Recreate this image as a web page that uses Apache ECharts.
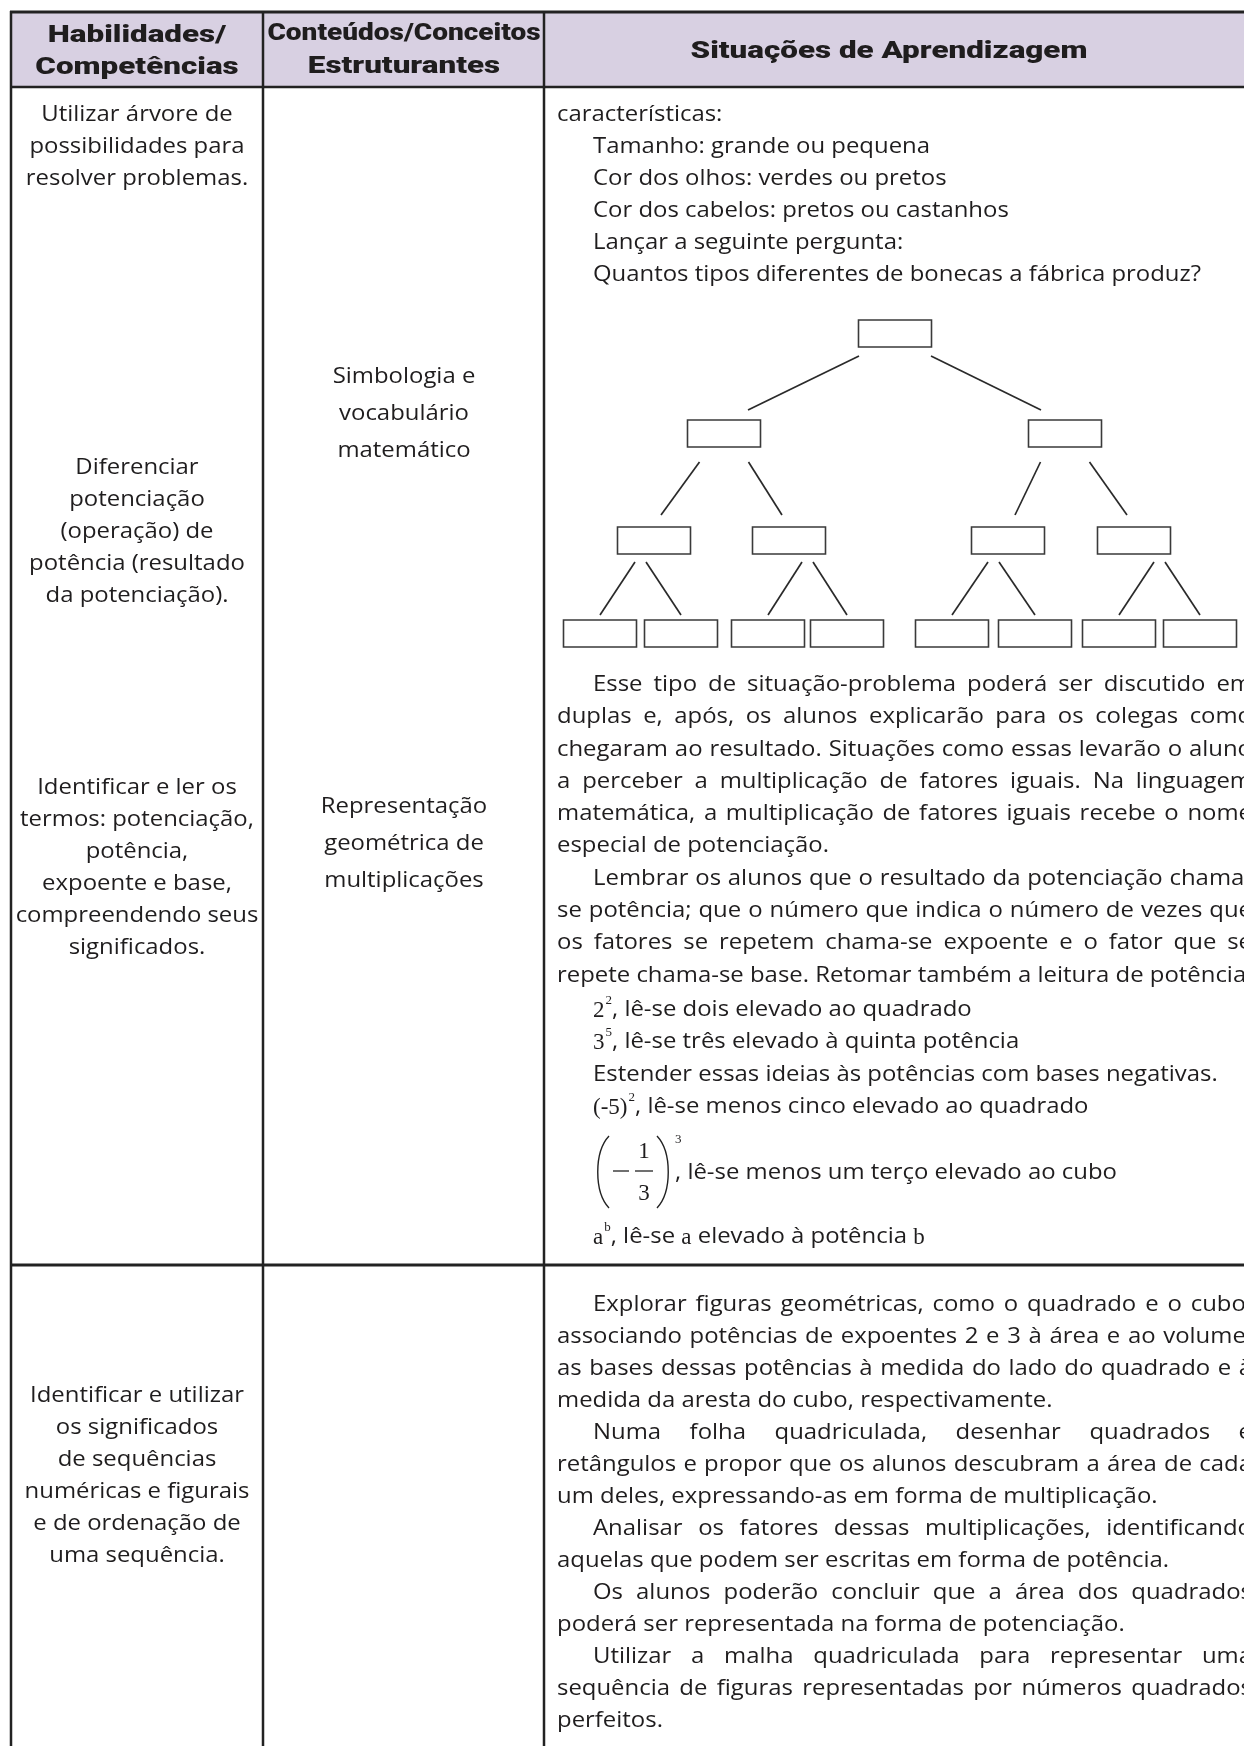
<!DOCTYPE html>
<html>
<head>
<meta charset="utf-8">
<script src="https://cdn.jsdelivr.net/npm/echarts@6/dist/echarts.min.js"></script>
<style>
html,body{margin:0;padding:0;background:#ffffff;}
#chart{width:1244px;height:1746px;}
</style>
</head>
<body>
<div id="chart"></div>
<script>
// ---------------- DATA (texts of the table) ----------------
const headerCol1 = ['Habilidades/', 'Competências'];
const headerCol2 = ['Conteúdos/Conceitos', 'Estruturantes'];
const headerCol3 = ['Situações de Aprendizagem'];

const skillsRow1 = [
  ['Utilizar árvore de', 'possibilidades para', 'resolver problemas.'],
  ['Diferenciar', 'potenciação', '(operação) de', 'potência (resultado', 'da potenciação).'],
  ['Identificar e ler os', 'termos: potenciação,', 'potência,', 'expoente e base,', 'compreendendo seus', 'significados.']
];
const contentsRow1 = [
  ['Simbologia e', 'vocabulário', 'matemático'],
  ['Representação', 'geométrica de', 'multiplicações']
];
const skillsRow2 = ['Identificar e utilizar', 'os significados', 'de sequências', 'numéricas e figurais', 'e de ordenação de', 'uma sequência.'];

const introHead = 'características:';
const introLines = [
  'Tamanho: grande ou pequena',
  'Cor dos olhos: verdes ou pretos',
  'Cor dos cabelos: pretos ou castanhos',
  'Lançar a seguinte pergunta:',
  'Quantos tipos diferentes de bonecas a fábrica produz?'
];
// tree of possibilities: number of (empty) boxes per level
const treeLevels = [1, 2, 4, 8];

const paragraphsRow1 = [
  ['Esse tipo de situação-problema poderá ser discutido em',
   'duplas e, após, os alunos explicarão para os colegas como',
   'chegaram ao resultado. Situações como essas levarão o aluno',
   'a perceber a multiplicação de fatores iguais. Na linguagem',
   'matemática, a multiplicação de fatores iguais recebe o nome',
   'especial de potenciação.'],
  ['Lembrar os alunos que o resultado da potenciação chama-',
   'se potência; que o número que indica o número de vezes que',
   'os fatores se repetem chama-se expoente e o fator que se',
   'repete chama-se base. Retomar também a leitura de potências.']
];
// $..$ = serif (math) text, ^..^ = superscript
const powerExamples = [
  '$2$^2^, lê-se dois elevado ao quadrado',
  '$3$^5^, lê-se três elevado à quinta potência',
  'Estender essas ideias às potências com bases negativas.',
  '$(-5)$^2^, lê-se menos cinco elevado ao quadrado'
];
const fractionExample = { sign: '−', num: '1', den: '3', exp: '3', text: ', lê-se menos um terço elevado ao cubo' };
const lastExample = '$a$^b^, lê-se $a$ elevado à potência $b$';

const paragraphsRow2 = [
  ['Explorar figuras geométricas, como o quadrado e o cubo,',
   'associando potências de expoentes 2 e 3 à área e ao volume,',
   'as bases dessas potências à medida do lado do quadrado e à',
   'medida da aresta do cubo, respectivamente.'],
  ['Numa folha quadriculada, desenhar quadrados e',
   'retângulos e propor que os alunos descubram a área de cada',
   'um deles, expressando-as em forma de multiplicação.'],
  ['Analisar os fatores dessas multiplicações, identificando',
   'aquelas que podem ser escritas em forma de potência.'],
  ['Os alunos poderão concluir que a área dos quadrados',
   'poderá ser representada na forma de potenciação.'],
  ['Utilizar a malha quadriculada para representar uma',
   'sequência de figuras representadas por números quadrados',
   'perfeitos.']
];

// ---------------- LAYOUT / STYLE ----------------
const L = {
  left: 11, c1: 263, c2: 544, right: 1262, top: 12, headBottom: 87, rowDiv: 1265, bottom: 1770,
  col1Center: 137, col2Center: 404, col3HeadCenter: 889,
  textLeft: 557, indent: 593, justifyRight: 1252,
  skillsRow1Y: [115, 468, 788], skillsStep: 32,
  contentsRow1Y: [377, 807], contentsStep: 37,
  skillsRow2Y: 1396,
  introY: 115, introStep: 32,
  parRow1Y: 685, parStep: 32.3,
  examplesY: [1010, 1042, 1075, 1107], fractionY: 1172, lastExampleY: 1237,
  parRow2Y: 1305, parStep2: 32.0,
  headY1: [36, 68], headY2: [34, 67], headY3: 52
};
const TREE = {
  boxW: 73, boxH: 27,
  levelTop: [320, 420, 527, 620],
  centers: [[895], [724, 1065], [654, 789, 1008, 1134], [600, 681, 768, 847, 952, 1035, 1119, 1200]],
  edges: [
    { spread: 36, g1: 9, pull: 24, g2: 10, mid: 'parent' },
    { spread: 24.5, g1: 15, pull: 7, g2: 12, mid: 'parent' },
    { spread: 5.5, g1: 8, pull: 0, g2: 5, mid: 'children' }
  ]
};
const TEXT = '#1f1d1e';
const LINE = '#222222';
const HEAD_FILL = '#d8d0e2';
const BODY_FONT = '400 21px "Open Sans", Lato, sans-serif';
const HEAD_FONT = '900 23px Roboto, "Open Sans", sans-serif';
const SERIF = '"Liberation Serif", "DejaVu Serif", serif';
const MATH_FONT = '400 23px ' + SERIF;
const SUP_FONT = '400 13px ' + SERIF;

const cv = document.createElement('canvas').getContext('2d');
function measure(t, font) { cv.font = font; return cv.measureText(t).width; }
const kBody = 608 / measure(introLines[4], BODY_FONT);
const kHead = 397 / measure(headerCol3[0], HEAD_FONT);

const els = [];
function txt(x, y, text, font, k, align) {
  els.push({
    type: 'text', x: x, y: y, scaleX: k, silent: true, z: 10,
    style: { text: text, font: font, fill: TEXT, textAlign: align || 'left', align: align || 'left',
             textVerticalAlign: 'middle', verticalAlign: 'middle' }
  });
}
function line(x1, y1, x2, y2, w, color) {
  els.push({ type: 'line', silent: true, z: 5, shape: { x1, y1, x2, y2 }, style: { stroke: color || LINE, lineWidth: w } });
}
function curve(x1, y1, cpx1, cpy1, cpx2, cpy2, x2, y2) {
  els.push({ type: 'bezierCurve', silent: true, z: 6, shape: { x1, y1, cpx1, cpy1, cpx2, cpy2, x2, y2 },
             style: { stroke: '#222', lineWidth: 1.4, fill: null } });
}
function justify(x0, x1, y, s) {
  const words = s.split(' ');
  const ws = words.map(w => measure(w, BODY_FONT) * kBody);
  const total = ws.reduce((a, b) => a + b, 0);
  const gap = words.length > 1 ? (x1 - x0 - total) / (words.length - 1) : 0;
  let x = x0;
  words.forEach((w, i) => { txt(x, y, w, BODY_FONT, kBody, 'left'); x += ws[i] + gap; });
}
function paragraphs(list, y0, step) {
  let y = y0;
  list.forEach(p => {
    p.forEach((s, i) => {
      const x0 = i === 0 ? L.indent : L.textLeft;
      if (i < p.length - 1) justify(x0, L.justifyRight, y, s);
      else txt(x0, y, s, BODY_FONT, kBody, 'left');
      y += step;
    });
  });
}
function segments(x, y, s) {
  const re = /(\$[^$]*\$|\^[^^]*\^)/g;
  s.split(re).filter(p => p.length).forEach(p => {
    if (p[0] === '$') {
      const t = p.slice(1, -1);
      txt(x, y + 1, t, MATH_FONT, 1, 'left'); x += measure(t, MATH_FONT);
    } else if (p[0] === '^') {
      const t = p.slice(1, -1);
      txt(x + 1, y - 9, t, SUP_FONT, 1, 'left'); x += measure(t, SUP_FONT) + 1;
    } else {
      txt(x, y, p, BODY_FONT, kBody, 'left'); x += measure(p, BODY_FONT) * kBody;
    }
  });
}

// ---------------- TABLE FRAME ----------------
els.push({ type: 'rect', silent: true, z: 1, shape: { x: L.left, y: L.top, width: L.right - L.left, height: L.headBottom - L.top }, style: { fill: HEAD_FILL } });
line(L.left - 1, L.top, L.right, L.top, 3);
line(L.left - 1, L.headBottom, L.right, L.headBottom, 2.5);
line(L.left - 1, L.rowDiv, L.right, L.rowDiv, 3);
[L.left, L.c1, L.c2].forEach(x => line(x, L.top - 1, x, L.bottom, 2.5));

// ---------------- HEADER ----------------
headerCol1.forEach((s, i) => txt(L.col1Center, L.headY1[i], s, HEAD_FONT, kHead, 'center'));
headerCol2.forEach((s, i) => {
  const w = measure(s, HEAD_FONT) * kHead;
  const k = w > 273 ? kHead * 273 / w : kHead;
  txt(L.col2Center, L.headY2[i], s, HEAD_FONT, k, 'center');
});
txt(L.col3HeadCenter, L.headY3, headerCol3[0], HEAD_FONT, kHead, 'center');

// ---------------- COLUMN 1 & 2 ----------------
skillsRow1.forEach((g, gi) => g.forEach((s, i) => txt(L.col1Center, L.skillsRow1Y[gi] + i * L.skillsStep, s, BODY_FONT, kBody, 'center')));
contentsRow1.forEach((g, gi) => g.forEach((s, i) => txt(L.col2Center, L.contentsRow1Y[gi] + i * L.contentsStep, s, BODY_FONT, kBody, 'center')));
skillsRow2.forEach((s, i) => txt(L.col1Center, L.skillsRow2Y + i * L.skillsStep, s, BODY_FONT, kBody, 'center'));

// ---------------- COLUMN 3, ROW 1 ----------------
txt(L.textLeft, L.introY, introHead, BODY_FONT, kBody, 'left');
introLines.forEach((s, i) => txt(L.indent, L.introY + (i + 1) * L.introStep, s, BODY_FONT, kBody, 'left'));

// tree of possibilities
treeLevels.forEach((n, lv) => {
  for (let j = 0; j < n; j++) {
    const cx = TREE.centers[lv][j];
    els.push({ type: 'rect', silent: true, z: 6, shape: { x: cx - TREE.boxW / 2, y: TREE.levelTop[lv], width: TREE.boxW, height: TREE.boxH },
               style: { fill: '#ffffff', stroke: '#3a3a3a', lineWidth: 1.6 } });
  }
  if (lv < treeLevels.length - 1) {
    const e = TREE.edges[lv];
    for (let j = 0; j < n; j++) {
      const kids = [TREE.centers[lv + 1][2 * j], TREE.centers[lv + 1][2 * j + 1]];
      const mid = e.mid === 'parent' ? TREE.centers[lv][j] : (kids[0] + kids[1]) / 2;
      const yStart = TREE.levelTop[lv] + TREE.boxH + e.g1;
      const yEnd = TREE.levelTop[lv + 1] - e.g2;
      line(mid - e.spread, yStart, kids[0] + e.pull, yEnd, 1.7, '#2a2a2a');
      line(mid + e.spread, yStart, kids[1] - e.pull, yEnd, 1.7, '#2a2a2a');
    }
  }
});

paragraphs(paragraphsRow1, L.parRow1Y, L.parStep);
powerExamples.forEach((s, i) => segments(L.indent, L.examplesY[i], s));

// fraction example
(function () {
  const ox = L.indent, cy = L.fractionY;
  curve(ox + 16, cy - 36, ox + 1, cy - 20, ox + 1, cy + 20, ox + 16, cy + 36);
  curve(ox + 64, cy - 36, ox + 79, cy - 20, ox + 79, cy + 20, ox + 64, cy + 36);
  line(ox + 20, cy - 1, ox + 36, cy - 1, 1.3, '#222');
  line(ox + 42, cy - 1, ox + 60, cy - 1, 1.3, '#222');
  txt(ox + 51, cy - 20, fractionExample.num, MATH_FONT, 1, 'center');
  txt(ox + 51, cy + 22, fractionExample.den, MATH_FONT, 1, 'center');
  txt(ox + 82, cy - 32, fractionExample.exp, SUP_FONT, 1, 'left');
  txt(ox + 82, cy + 1, fractionExample.text, BODY_FONT, kBody, 'left');
})();
segments(L.indent, L.lastExampleY, lastExample);

// ---------------- COLUMN 3, ROW 2 ----------------
paragraphs(paragraphsRow2, L.parRow2Y, L.parStep2);

const chart = echarts.init(document.getElementById('chart'), null, { renderer: 'canvas' });
chart.setOption({ animation: false, backgroundColor: '#ffffff', graphic: { elements: els } });
</script>
</body>
</html>
